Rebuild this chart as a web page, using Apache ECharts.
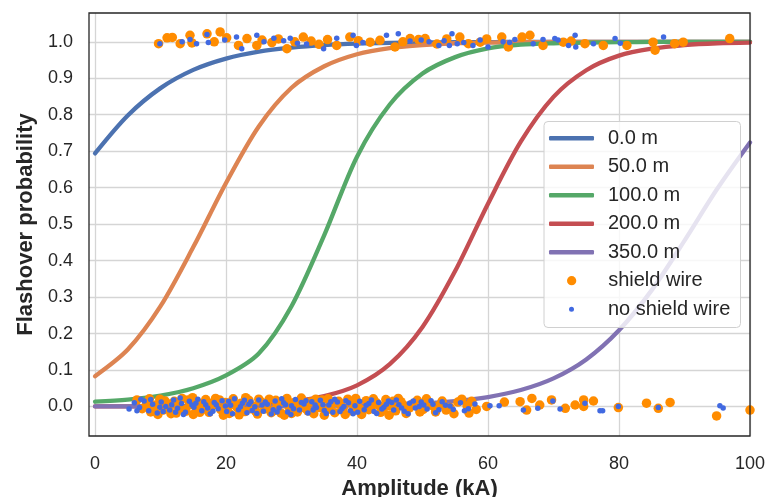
<!DOCTYPE html>
<html><head><meta charset="utf-8">
<script src="https://cdn.jsdelivr.net/npm/echarts@6/dist/echarts.min.js"></script>
<style>html,body{margin:0;padding:0;background:#fff}#c{width:768px;height:497px}</style>
</head><body><div id="c"></div>
<script>
// ---- data ----
const amplitude = [0,5,10,15,20,25,30,35,40,45,50,55,60,65,70,75,80,85,90,95,100];
const p_0m   = [0.694,0.798,0.873,0.923,0.954,0.973,0.984,0.991,0.995,0.997,0.998,0.999,0.999,1.0,1.0,1.0,1.0,1.0,1.0,1.0,1.0];
const p_50m  = [0.083,0.156,0.275,0.437,0.613,0.768,0.874,0.933,0.966,0.983,0.991,0.996,0.998,0.999,1.0,1.0,1.0,1.0,1.0,1.0,1.0];
const p_100m = [0.013,0.019,0.030,0.050,0.085,0.145,0.275,0.470,0.685,0.828,0.913,0.958,0.982,0.992,0.996,0.998,0.999,1.0,1.0,1.0,1.0];
const p_200m = [0.0002,0.0004,0.0007,0.0015,0.003,0.0065,0.0137,0.0285,0.058,0.116,0.218,0.372,0.556,0.726,0.849,0.922,0.962,0.981,0.991,0.996,0.998];
const p_350m = [0.0,0.0,0.0001,0.0002,0.0003,0.0005,0.0008,0.0015,0.0027,0.0047,0.0083,0.0146,0.0258,0.045,0.077,0.129,0.209,0.319,0.455,0.597,0.724];
const curveNames = ['0.0 m','50.0 m','100.0 m','200.0 m','350.0 m'];

const shieldWire = [
 [9.7,0.995],[11.0,1.011],[11.8,1.012],[13.0,0.995],[14.5,1.018],[14.8,0.997],[17.1,1.022],[18.2,1.0],[19.1,1.027],[20.1,1.011],
 [21.9,0.99],[23.2,1.009],[24.7,0.99],[25.5,1.005],[27.0,0.998],[28.0,1.008],[29.3,0.981],[30.5,1.0],[31.8,1.013],[33.0,1.002],
 [34.2,0.993],[35.5,1.006],[36.9,0.99],[38.9,1.013],[40.2,1.003],[42.0,0.999],[43.5,1.004],[45.8,0.986],[47.0,1.0],[48.1,1.009],
 [49.4,1.006],[50.4,1.009],[52.2,0.994],[53.7,1.008],[55.7,1.013],[57.0,0.995],[58.8,0.999],[59.8,1.008],[62.1,1.013],[63.1,0.986],
 [65.2,1.013],[66.4,1.018],[68.4,0.99],[71.5,0.999],[72.7,1.002],[74.8,0.995],[77.6,0.99],[81.2,0.99],[85.2,0.999],[85.5,0.977],
 [88.5,0.995],[89.8,0.999],[96.9,1.009],
 [6.4,0.018],[7.2,-0.006],[8.0,0.01],[8.5,-0.015],[9.3,0.004],[9.9,0.02],[10.4,-0.01],[11.0,0.008],[11.6,-0.02],[12.1,0.014],
 [12.8,-0.004],[13.3,0.022],[13.9,-0.013],[14.5,0.006],[15.0,-0.022],[15.6,0.012],[16.2,-0.002],[16.9,0.019],[17.4,-0.016],[18.0,0.003],
 [18.7,0.016],[19.2,-0.009],[19.9,0.011],[20.5,-0.019],[21.1,0.021],[21.7,-0.003],[22.3,0.009],[22.9,-0.014],[23.5,0.017],[24.1,0.001],
 [24.8,-0.021],[25.3,0.013],[25.9,-0.007],[26.6,0.02],[27.2,-0.012],[27.8,0.005],[28.4,-0.018],[29.0,0.015],[29.6,-0.001],[30.3,0.01],
 [30.9,-0.015],[31.5,0.023],[32.1,-0.005],[32.8,0.012],[33.4,-0.02],[34.0,0.007],[34.7,0.018],[35.3,-0.011],[35.9,0.002],[36.6,-0.017],
 [37.2,0.014],[37.9,-0.004],[38.6,0.02],[39.3,-0.013],[40.0,0.008],[40.7,-0.022],[41.4,0.016],[42.1,-0.002],[42.9,0.011],[43.6,-0.016],
 [44.4,0.019],[45.1,0.001],[45.9,-0.012],[46.7,0.013],[47.5,-0.019],[48.4,0.006],[49.2,0.017],[50.1,-0.008],[51.0,0.01],[52.0,-0.015],
 [53.0,0.015],[54.2,-0.003],[55.4,0.012],[56.8,0.002],[58.2,-0.008],
 [7.8,0.002],[9.0,-0.012],[10.7,0.015],[12.4,-0.018],[14.2,0.018],[15.3,0.0],[17.0,-0.008],[18.4,0.022],[19.6,-0.024],[21.4,0.004],
 [23.0,0.024],[24.5,-0.012],[26.2,0.007],[27.6,0.017],[28.9,-0.024],[30.6,-0.006],[31.9,0.004],[33.7,0.02],[35.0,-0.024],[36.3,0.009],
 [38.2,-0.022],[39.8,0.022],[41.8,-0.009],[43.3,0.003],[44.9,-0.024],[46.3,0.022],[48.0,-0.004],[50.6,0.021],[52.6,0.004],[54.8,-0.02],
 [57.5,0.014],
 [8.3,0.021],[9.6,-0.022],[10.1,0.006],[11.3,-0.004],[12.6,0.01],[13.6,-0.008],[14.9,0.024],[16.0,-0.016],[17.7,0.008],[19.0,0.018],
 [20.2,-0.006],[20.9,0.012],[22.0,-0.023],[23.8,-0.006],[25.0,0.02],[26.9,-0.017],[28.1,0.011],[29.3,0.022],[30.0,-0.019],[31.2,0.008],
 [32.5,-0.012],[34.3,-0.003],[35.6,0.021],[37.5,0.003],[39.0,0.011],[40.4,-0.006],[42.5,0.021],[44.0,-0.01],[45.5,0.014],[47.1,0.004],
 [49.6,-0.015],[51.5,0.002],[53.6,-0.01],[56.0,0.02],[57.1,-0.018],
 [59.8,0.0],[62.5,0.012],[64.9,0.013],[65.9,-0.01],[66.7,0.022],[67.9,0.004],[69.7,0.018],[71.8,-0.005],[73.3,0.004],[74.6,0.018],
 [74.6,0.0],[76.1,0.015],[79.9,-0.003],[84.2,0.009],[86.0,-0.005],[87.8,0.011],[94.9,-0.026],[100.0,-0.01]
];
const noShieldWire = [
 [9.9,0.995],[13.3,1.0],[14.5,1.006],[15.5,0.995],[17.1,1.02],[17.3,0.998],[19.8,1.005],[21.6,1.013],[22.4,0.981],[24.7,1.018],
 [25.8,1.0],[27.3,1.01],[28.8,1.003],[29.8,1.01],[30.9,0.996],[32.3,0.994],[34.9,0.981],[36.9,1.01],[39.4,1.018],[39.9,0.99],
 [40.9,0.998],[44.5,1.018],[46.3,1.022],[48.1,1.002],[49.8,1.005],[51.0,1.0],[52.5,0.99],[53.3,1.003],[54.1,0.99],[54.5,1.022],
 [55.3,0.995],[56.3,0.998],[57.7,0.99],[58.8,1.005],[60.0,0.986],[62.3,1.0],[63.3,0.998],[64.1,1.006],[66.9,0.995],[68.4,1.006],
 [70.2,1.009],[70.7,1.005],[72.3,0.99],[73.3,1.018],[73.4,0.986],[76.1,0.995],[79.4,1.009],[80.2,0.996],[86.8,1.013],
 [5.2,-0.007],[6.0,0.01],[6.8,-0.003],[7.5,0.015],[8.2,-0.012],[8.8,0.006],[9.5,-0.018],[10.1,0.012],[10.8,0.0],[11.4,-0.01],
 [12.0,0.018],[12.6,-0.005],[13.2,0.008],[13.8,-0.016],[14.4,0.014],[15.1,-0.002],[15.7,0.02],[16.3,-0.012],[16.9,0.005],[17.6,-0.02],
 [18.2,0.011],[18.8,-0.006],[19.4,0.016],[20.1,-0.014],[20.7,0.003],[21.3,0.021],[21.9,-0.009],[22.5,0.009],[23.2,-0.017],[23.8,0.013],
 [24.4,-0.001],[25.0,0.018],[25.7,-0.013],[26.3,0.006],[26.9,-0.021],[27.5,0.015],[28.1,-0.004],[28.8,0.01],[29.4,-0.015],[30.0,0.002],
 [30.6,0.019],[31.2,-0.01],[31.9,0.007],[32.5,-0.018],[33.1,0.013],[33.8,-0.003],[34.4,0.017],[35.0,-0.011],[35.7,0.004],[36.3,-0.016],
 [37.0,0.012],[37.7,-0.006],[38.3,0.016],[39.0,-0.012],[39.7,0.002],[40.4,0.014],[41.1,-0.009],[41.8,0.008],[42.6,-0.014],[43.3,0.011],
 [44.1,-0.002],[44.8,0.015],[45.6,-0.01],[46.4,0.005],[47.2,-0.013],[48.0,0.009],[48.9,-0.004],[49.8,0.012],[50.7,-0.007],[51.6,0.006],
 [52.5,-0.009],[53.5,0.003],[54.7,-0.008],[55.8,0.01],[57.0,-0.006],
 [7.0,0.02],[9.9,-0.002],[11.7,0.005],[13.5,-0.022],[14.8,0.004],[16.6,0.013],[18.0,-0.013],[19.9,0.001],[21.0,-0.02],[22.8,0.017],
 [24.0,-0.011],[25.5,0.004],[27.2,-0.009],[28.5,0.021],[29.9,-0.022],[31.5,0.011],[33.3,-0.01],[34.8,0.005],[36.6,0.02],[38.0,0.0],
 [39.4,-0.02],[41.4,0.003],[43.0,-0.019],[44.5,0.006],[46.0,0.018],[47.8,-0.02],[49.5,0.0],[51.3,0.016],
 [6.4,-0.012],[8.5,0.019],[10.4,-0.014],[12.3,-0.016],[13.0,0.023],[15.4,0.009],[17.2,-0.004],[18.5,0.005],[20.4,0.014],[22.2,-0.001],
 [23.5,0.006],[24.7,-0.019],[26.0,0.012],[27.8,-0.015],[29.1,0.005],[30.3,-0.006],[32.2,0.016],[33.6,0.004],[35.3,-0.019],[36.0,0.013],
 [37.4,-0.014],[38.7,0.01],[40.1,-0.016],[42.2,0.018],[43.8,-0.007],[45.3,0.011],[46.8,-0.004],[48.6,0.015],[50.2,0.004],[52.0,-0.017],
 [53.0,0.013],[54.2,0.001],[56.4,-0.012],[58.0,0.007],
 [60.3,0.002],[61.7,0.002],[65.4,-0.01],[67.6,-0.005],[69.9,0.015],[71.0,-0.007],[74.8,0.009],[77.1,-0.012],[77.5,-0.012],[79.9,0.0],
 [86.0,-0.003],[95.4,0.002],[95.9,-0.004]
];
const xTickValues = [0,20,40,60,80,100];
const yTickValues = [0,0.1,0.2,0.3,0.4,0.5,0.6,0.7,0.8,0.9,1.0];

// ---- chart ----
const FONT = '"Liberation Sans", Arial, sans-serif';
const TXT = '#262626';
const GRIDC = '#d5d5d5';
const colors = ['#4C72B0','#DD8452','#55A868','#C44E52','#8172B3'];
const curves = [p_0m, p_50m, p_100m, p_200m, p_350m];
const chart = echarts.init(document.getElementById('c'), null, {renderer:'canvas'});

const lineSeries = curves.map((vals, i) => ({
  name: curveNames[i], type: 'line',
  data: amplitude.map((x, j) => [x, vals[j]]),
  symbol: 'none', showSymbol: false, smooth: 0.3,
  lineStyle: {width: 4.3, color: colors[i], cap: 'round'},
  itemStyle: {color: colors[i]}, z: 2
}));

const legendText = {fontFamily: FONT, fontSize: 20, color: TXT, lineHeight: 20, padding: [0, 0, 0, 9]};

const option = {
  animation: false,
  backgroundColor: '#fff',
  grid: {left: 89, right: 18, top: 13, bottom: 61, containLabel: false, outerBoundsMode: 'none'},
  xAxis: {type: 'value', min: -0.92, max: 100,
    axisLine: {show: false},
    axisTick: {show: false, customValues: xTickValues},
    axisLabel: {fontFamily: FONT, fontSize: 18, color: TXT, margin: 19, customValues: xTickValues,
      formatter: v => String(v)},
    splitLine: {show: true, lineStyle: {color: GRIDC, width: 1.3}},
    name: 'Amplitude (kA)', nameLocation: 'middle', nameGap: 41,
    nameTextStyle: {fontFamily: FONT, fontWeight: 'bold', fontSize: 22, color: TXT}},
  yAxis: {type: 'value', min: -0.081, max: 1.079,
    axisLine: {show: false},
    axisTick: {show: false, customValues: yTickValues},
    axisLabel: {fontFamily: FONT, fontSize: 18, color: TXT, margin: 16, customValues: yTickValues,
      formatter: v => v.toFixed(1)},
    splitLine: {show: true, lineStyle: {color: GRIDC, width: 1.3}},
    name: 'Flashover probability', nameLocation: 'middle', nameGap: 49,
    nameTextStyle: {fontFamily: FONT, fontWeight: 'bold', fontSize: 22, color: TXT}},
  legend: [
    {data: curveNames.map(n => ({name: n, icon: 'roundRect'})), orient: 'vertical', left: 549, top: 128.3,
     itemWidth: 45, itemHeight: 4.5, itemGap: 8.5, padding: 0, selectedMode: false, z: 60, textStyle: legendText},
    {data: [{name: 'shield wire', icon: 'circle'}], orient: 'vertical', left: 567, top: 270.7,
     itemWidth: 45, itemHeight: 9.3, padding: 0, selectedMode: false, z: 60, textStyle: legendText},
    {data: [{name: 'no shield wire', icon: 'circle'}], orient: 'vertical', left: 569, top: 299.3,
     itemWidth: 45, itemHeight: 5, padding: 0, selectedMode: false, z: 60, textStyle: legendText}
  ],
  graphic: [
    {type: 'rect', z: 50, shape: {x: 544, y: 121.5, width: 196.5, height: 206, r: 4},
     style: {fill: 'rgba(255,255,255,0.8)', stroke: '#d0d0d0', lineWidth: 1}},
    {type: 'rect', z: 100, silent: true, shape: {x: 89, y: 13, width: 661, height: 423},
     style: {fill: 'none', stroke: '#262626', lineWidth: 1.3}}
  ],
  series: [
    ...lineSeries,
    {name: 'shield wire', type: 'scatter', data: shieldWire,
     symbolSize: 9.5, itemStyle: {color: '#FF8C00', opacity: 1}, z: 3},
    {name: 'no shield wire', type: 'scatter', data: noShieldWire,
     symbolSize: 5.5, itemStyle: {color: '#4169E1', opacity: 1}, z: 4}
  ]
};
chart.setOption(option);
</script>
</body></html>
